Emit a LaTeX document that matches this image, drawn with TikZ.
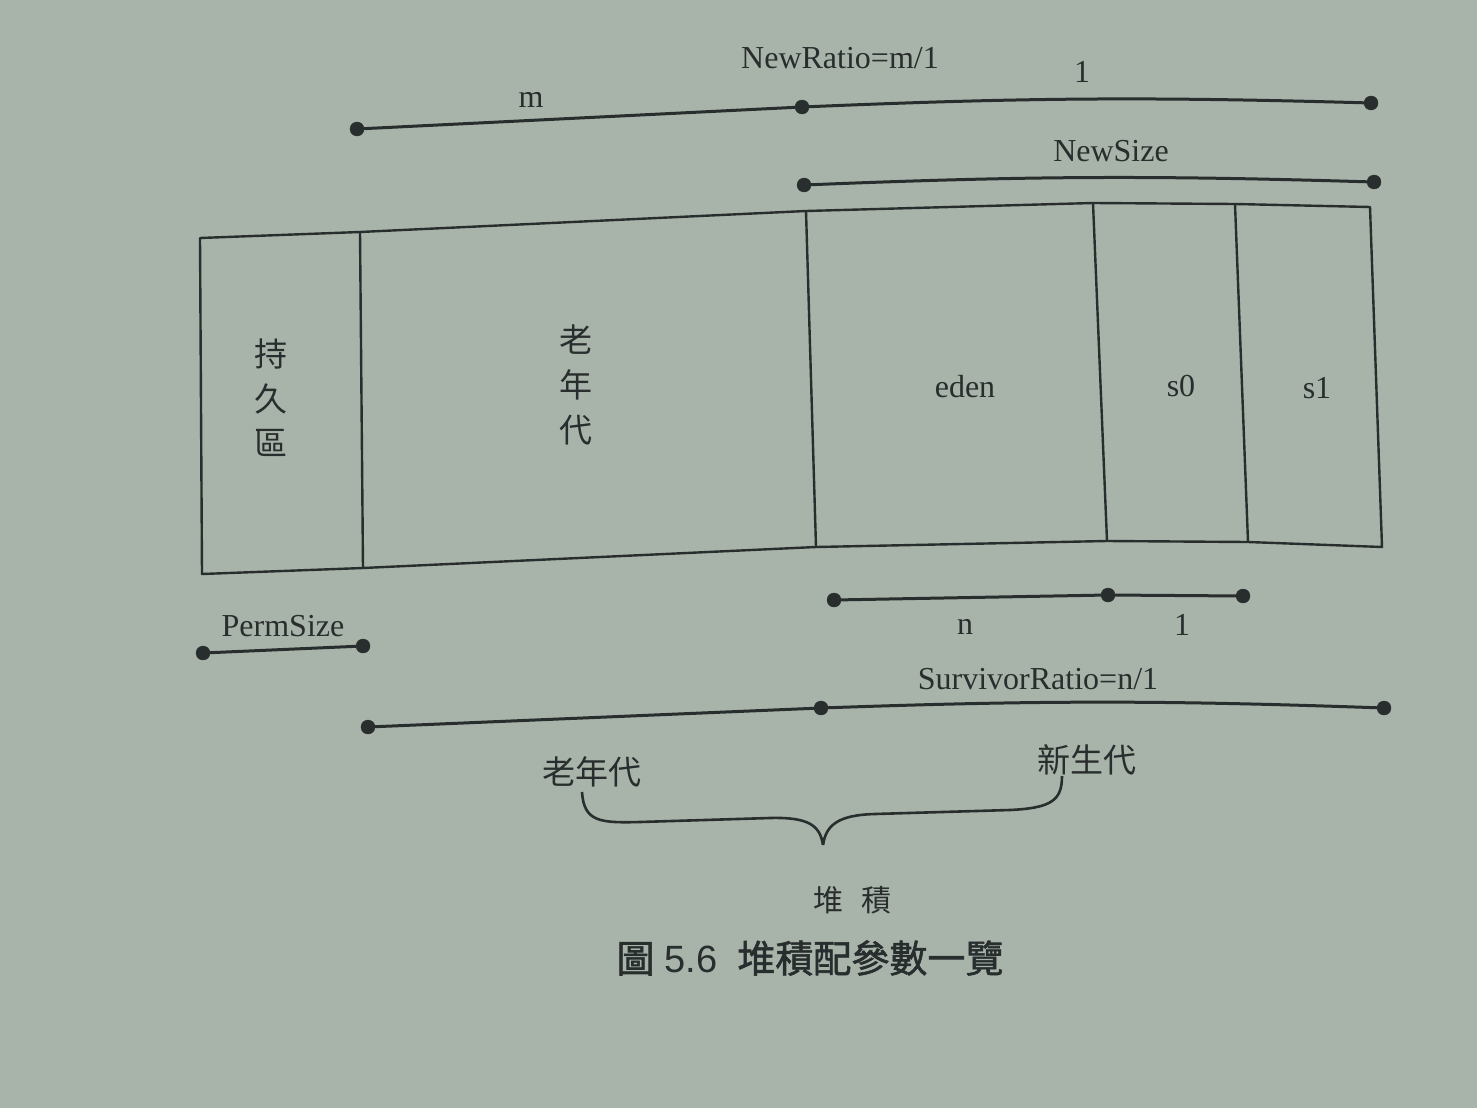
\documentclass[tikz,border=0pt]{standalone}
\usepackage{fontspec}
\setmainfont{Liberation Serif}
\newfontfamily\cjk{Noto Sans CJK TC}
\newfontfamily\cjkb{Noto Sans CJK TC}[FakeBold=1.5]
\newfontfamily\capsans{Liberation Sans}
\definecolor{bgc}{RGB}{168,180,170}
\definecolor{ink}{RGB}{40,45,45}
\tikzset{
  pdot/.style={circle, fill=ink, draw=ink, inner sep=0pt, minimum size=14pt},
  lab/.style={text=ink, font=\fontsize{32}{36}\selectfont, inner sep=0pt},
  cjklab/.style={text=ink, font=\cjk\fontsize{33}{38}\selectfont, inner sep=0pt},
  seg/.style={draw=ink, line width=3pt},
  boxline/.style={draw=ink, line width=2.4pt, line join=round},
}
\begin{document}
\begin{tikzpicture}[x=1pt, y=-1pt]
\fill[bgc] (0,0) rectangle (1477,1108);
\useasboundingbox (0,0) rectangle (1477,1108);

% top NewRatio line
\node[pdot] (r1) at (357,129) {};
\node[pdot] (r2) at (802,107) {};
\node[pdot] (r3) at (1371,103) {};
\draw[seg] (r1) -- (r2);
\draw[seg] (r2) to[bend left=2] (r3);
\node[lab] (lm) at (531,100) {m};
\node[lab] (lnr) at (840,58) {NewRatio=m/1};
\node[lab] (l1a) at (1082,72) {1};

% NewSize line
\node[pdot] (ns1) at (804,185) {};
\node[pdot] (ns2) at (1374,182) {};
\draw[seg] (ns1) to[bend left=2] (ns2);
\node[lab] (lns) at (1111,151) {NewSize};

% box corners
\coordinate (t0) at (200,238);
\coordinate (t1) at (360,232);
\coordinate (t2) at (806,211);
\coordinate (t3) at (1093,203);
\coordinate (t4) at (1235,204);
\coordinate (t5) at (1370,207);
\coordinate (b0) at (202,574);
\coordinate (b1) at (363,568);
\coordinate (b2) at (816,547);
\coordinate (b3) at (1107,541);
\coordinate (b4) at (1248,542);
\coordinate (b5) at (1382,547);
\draw[boxline] (t0) -- (t1) -- (t2) -- (t3) -- (t4) -- (t5) -- (b5) -- (b4) -- (b3) -- (b2) -- (b1) -- (b0) -- cycle;
\draw[boxline] (t1) -- (b1);
\draw[boxline] (t2) -- (b2);
\draw[boxline] (t3) -- (b3);
\draw[boxline] (t4) -- (b4);

% box texts
\node[cjklab] (perm) at (271,403) {\begin{tabular}{@{}c@{}}持\\[6pt]久\\[6pt]區\end{tabular}};
\node[cjklab] (old) at (576,389) {\begin{tabular}{@{}c@{}}老\\[6pt]年\\[6pt]代\end{tabular}};
\node[lab] (eden) at (965,387) {eden};
\node[lab] (s0) at (1181,386) {s0};
\node[lab] (s1) at (1317,388) {s1};

% n / 1 line
\node[pdot] (n1) at (834,600) {};
\node[pdot] (n2) at (1108,595) {};
\node[pdot] (n3) at (1243,596) {};
\draw[seg] (n1) -- (n2);
\draw[seg] (n2) -- (n3);
\node[lab] (ln) at (965,627) {n};
\node[lab] (l1b) at (1182,625) {1};

% PermSize
\node[lab] (lps) at (283,626) {PermSize};
\node[pdot] (p1) at (203,653) {};
\node[pdot] (p2) at (363,646) {};
\draw[seg] (p1) -- (p2);

% SurvivorRatio line
\node[lab] (lsr) at (1038,679) {SurvivorRatio=n/1};
\node[pdot] (sr1) at (368,727) {};
\node[pdot] (sr2) at (821,708) {};
\node[pdot] (sr3) at (1384,708) {};
\draw[seg] (sr1) -- (sr2);
\draw[seg] (sr2) to[bend left=2] (sr3);

% brace
\node[cjklab] (oldg) at (592,772) {老年代};
\node[cjklab] (newg) at (1087,760) {新生代};
\coordinate (bl) at (582,792);
\coordinate (bm) at (823,845);
\coordinate (br) at (1062,776);
\draw[seg, line width=2.6pt]
  (bl) .. controls (584,822) and (600,823) .. (640,822)
  -- (770,818) .. controls (808,817) and (820,825) .. (bm);
\draw[seg, line width=2.6pt]
  (bm) .. controls (826,825) and (838,815) .. (875,814)
  -- (1010,810) .. controls (1052,808) and (1062,800) .. (br);

% heap label and caption
\node[cjklab, font=\cjk\fontsize{30}{34}\selectfont] (heap) at (852,900) {堆\hspace{18pt}積};
\node[text=ink, inner sep=0pt, anchor=center] (cap) at (810,958)
  {\cjkb\fontsize{38}{44}\selectfont 圖\hspace{10pt}{\capsans\fontsize{38}{44}\selectfont 5.6}\hspace{20pt}堆積配參數一覽};
\end{tikzpicture}
\end{document}
